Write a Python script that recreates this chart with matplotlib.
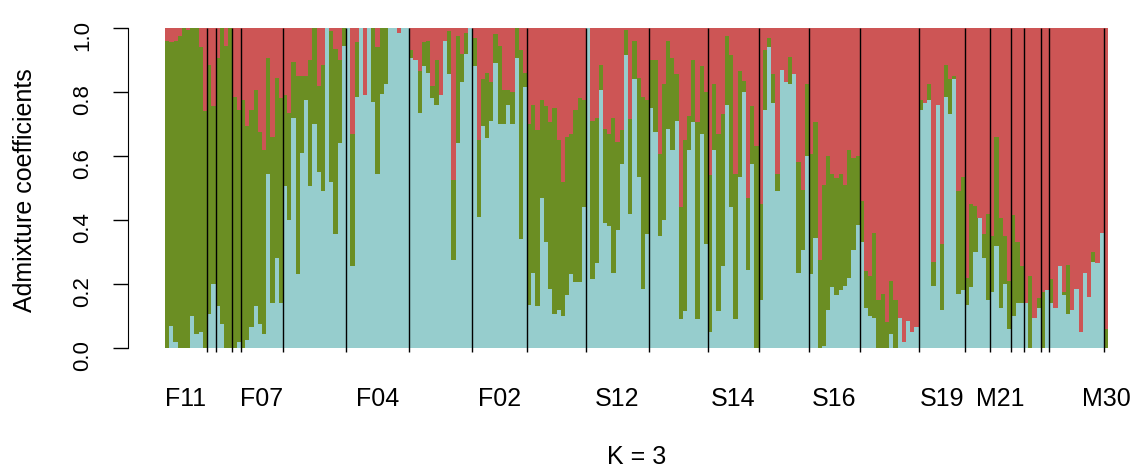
import numpy as np
import matplotlib
matplotlib.use("Agg")
import matplotlib.pyplot as plt

plt.rcParams['font.family'] = ['Liberation Sans', 'DejaVu Sans']

# individuals per population, in plot order
group_sizes = [10, 2, 4, 2, 10, 15, 15, 15, 13, 14, 15, 14, 12, 12, 12, 14, 11, 6, 5, 3, 4, 2, 13, 1]
# only some population names are printed under the bars
label_groups = [0, 4, 6, 8, 10, 12, 14, 16, 18, 23]
label_names = ['F11', 'F07', 'F04', 'F02', 'S12', 'S14', 'S16', 'S19', 'M21', 'M30']

# admixture coefficients for cluster 1 (light blue) and cluster 3 (red);
# cluster 2 (olive) is the remainder
q_blue = [
    0, .07, .02, 0, 0, 0, .10, .045, .05, 0,
    .105, .20, .13, .075, 0, 0, 0, .02, 0, .025,
    .065, .13, .075, .045, .545, .14, .28, .14, .505, .40,
    .72, .23, .61, .775, .505, .70, .55, .49, 1.0, .52,
    .355, .64, .945, 1.0, .255, .785, 1.0, .79, 1.0, .77,
    .545, .795, .825, 1.0, 1.0, .985, 1.0, 1.0, .905, .90,
    .735, .88, .86, .78, .76, .79, .96, .855, .275, .64,
    .83, .92, 1.0, .88, .41, .695, .655, .71, .89, .70,
    .70, .76, .70, .905, .34, .815, .135, .235, .13, .47,
    .33, .185, .105, .12, .10, .165, .23, .205, .205, .44,
    1.0, .215, .265, .805, .39, .38, .235, .37, .575, .915,
    .42, .84, .535, .185, .355, .75, .675, .35, .40, .685,
    .62, .71, .09, .115, .62, .705, .09, .67, .325, .05,
    .62, .115, .255, .76, .44, .09, .535, .80, .245, .575,
    0, .15, .745, .94, .765, .49, .87, .83, .825, .855,
    .235, .305, .60, .23, .345, 0, .005, .12, .19, .165,
    .18, .195, .22, .305, .385, .33, .125, .10, .095, 0,
    0, 0, .045, 0, .095, .02, .085, .05, .065, .745,
    .765, .775, .195, .76, .12, .785, .73, .84, .17, .18,
    .135, .19, .30, .405, .28, .15, .175, .32, .125, .20,
    .06, .10, .14, .14, .14, 0, .095, .125, 0, .18,
    .14, .125, .255, .165, .105, .12, .185, .05, .235, .16,
    .27, .265, .36, 0,
]
q_red = [
    .04, .045, .04, .025, 0, .005, 0, 0, .06, .26,
    .115, .245, .095, 0, .055, 0, .215, .255, .225, .305,
    .255, .195, .325, .38, .095, .34, .155, .22, .21, .265,
    .105, .15, .15, .15, .10, 0, .18, .115, 0, .01,
    .065, .10, 0, 0, .33, .045, 0, .21, 0, 0,
    .06, 0, 0, 0, 0, .015, 0, 0, .07, .10,
    .135, .045, .04, .18, .10, .21, .04, .01, .475, .025,
    .08, .015, 0, .03, .35, .16, .14, .17, .02, .055,
    .195, .195, .20, 0, .07, .14, .30, .24, .32, .225,
    .245, .295, .25, .35, .48, .34, .33, .255, .22, .225,
    0, .29, .28, .115, .315, .33, .28, .355, .32, .005,
    .285, .04, .155, .215, .225, .10, .10, .395, .175, .04,
    .095, .145, .56, .35, .275, .10, .295, .12, .20, .46,
    .175, .33, .27, .025, .085, .455, .135, .165, .53, .245,
    .37, .55, .07, .03, .145, .455, .13, .17, .09, .145,
    .42, .505, .175, .395, .295, .725, .49, .40, .455, .47,
    .455, .49, .38, .405, .40, .54, .76, .775, .64, .85,
    .83, .92, .79, .85, .905, .98, .915, .95, .935, .225,
    .235, .175, .73, .24, .675, .115, .16, .15, .51, .465,
    .78, .55, .555, .595, .645, .58, .65, .34, .595, .65,
    .79, .585, .67, .745, .86, .775, .905, .845, .825, .82,
    .785, .875, .745, .825, .74, .88, .815, .95, .765, .84,
    .70, .735, .64, .94,
]

blue = np.array(q_blue)
red = np.array(q_red)
green = np.clip(1 - blue - red, 0, None)
x = np.arange(len(blue))

c_blue = '#96CDCD'
c_green = '#6B8E23'
c_red = '#CD5555'

fig = plt.figure(figsize=(11.36, 4.74), dpi=100)
ax = fig.add_axes([165 / 1136, 1 - 348 / 474, 943 / 1136, 320 / 474])

# slight overlap so no white seams appear between neighbouring bars
kw = dict(width=1.03, align='edge', linewidth=0, antialiased=False)
ax.bar(x, blue, color=c_blue, **kw)
ax.bar(x, green, bottom=blue, color=c_green, **kw)
ax.bar(x, red, bottom=blue + green, color=c_red, **kw)

# population separators
bounds = np.cumsum(group_sizes)[:-1]
ax.vlines(bounds, -0.012, 1.0, colors='black', linewidth=1.0, clip_on=False)

ax.set_xlim(0, len(blue))
ax.set_ylim(0, 1)

starts = np.concatenate([[0], np.cumsum(group_sizes)[:-1]])
centers = [starts[g] + group_sizes[g] / 2 for g in label_groups]
ax.set_xticks(centers, label_names)
ax.tick_params(axis='x', length=0, pad=28, labelsize=18)

ax.set_yticks([0, 0.2, 0.4, 0.6, 0.8, 1.0], ['0.0', '0.2', '0.4', '0.6', '0.8', '1.0'])
ax.tick_params(axis='y', length=10.8, width=1, pad=14, labelsize=16, labelrotation=90)
for lab in ax.get_yticklabels():
    lab.set_verticalalignment('center')

for s in ['top', 'right', 'bottom']:
    ax.spines[s].set_visible(False)
ax.spines['left'].set_position(('outward', 26.6))
ax.spines['left'].set_bounds(0, 1)

fig.text(25 / 1136, 1 - 190 / 474, 'Admixture coefficients', rotation=90,
         ha='center', va='center', fontsize=18)
fig.text(636.5 / 1136, 1 - 457 / 474, 'K = 3', ha='center', va='center', fontsize=18)

fig.savefig('out.png', dpi=100)
